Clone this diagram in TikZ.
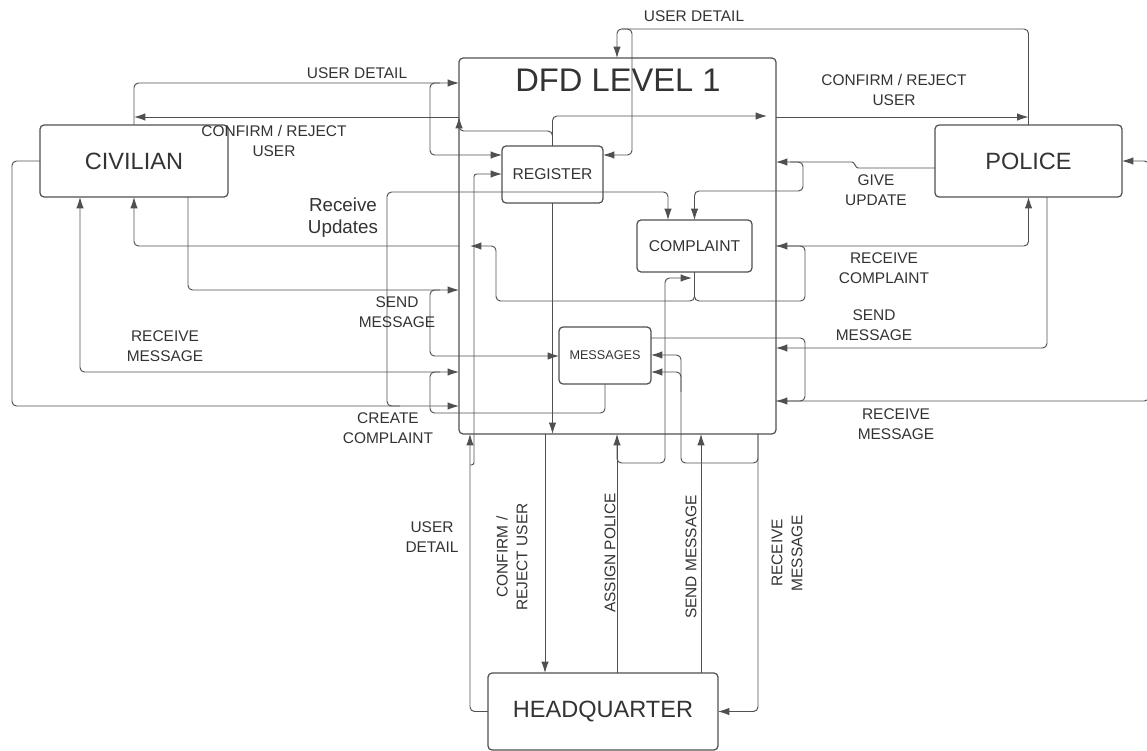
\documentclass[tikz,border=0pt]{standalone}
\usepackage{fontspec}
\setmainfont{Liberation Sans}
\usetikzlibrary{arrows.meta}
\definecolor{linegray}{HTML}{505050}
\definecolor{txtgray}{HTML}{333333}
\tikzset{
  proc/.style={draw=linegray, line width=0.7pt, rounded corners=0.08cm, inner sep=0pt, outer sep=0pt, text=txtgray, align=center},
  flow/.style={draw=linegray, line width=0.55pt, rounded corners=0.09cm, ->},
  lbl/.style={text=txtgray, align=center, inner sep=0pt, font=\fontsize{8.8}{11.3}\selectfont},
}
\begin{document}
\begin{tikzpicture}[x=0.02cm, y=-0.02cm, >={Latex[length=6.5pt,width=4.3pt]}]
  \useasboundingbox (0,0) rectangle (1147,751);
  % processes and entities
  \node[proc, minimum width=6.34cm, minimum height=7.52cm] (dfd) at (617.5,246) {};
  \node[text=txtgray, font=\fontsize{18.6}{20}\selectfont] (title) at (618,80) {DFD LEVEL 1};
  \node[proc, minimum width=3.76cm, minimum height=1.44cm, font=\fontsize{13.4}{15}\selectfont] (civ) at (134,161) {CIVILIAN};
  \node[proc, minimum width=3.74cm, minimum height=1.44cm, font=\fontsize{13.4}{15}\selectfont] (pol) at (1028.5,161) {POLICE};
  \node[proc, minimum width=4.6cm, minimum height=1.54cm, font=\fontsize{13.4}{15}\selectfont] (hq) at (603,711.5) {HEADQUARTER};
  \node[proc, minimum width=2.02cm, minimum height=1.14cm, font=\fontsize{8.9}{10}\selectfont] (reg) at (552.5,174.5) {REGISTER};
  \node[proc, minimum width=2.3cm, minimum height=1.04cm, font=\fontsize{8.9}{10}\selectfont] (cmp) at (694.5,246) {COMPLAINT};
  \node[proc, minimum width=1.84cm, minimum height=1.14cm, font=\fontsize{7.2}{8}\selectfont] (msg) at (605,355.5) {MESSAGES};
  % free ends
  \coordinate (rcfm) at (767,116);
  \coordinate (rupd) at (470,246);
  \coordinate (apol) at (692,278);

  % civilian: user detail / confirm
  \draw[flow] (civ.north) -- (134,83) -- (dfd.west |- 0,83);
  \draw[flow] (440,83) -- (430,83) -- (430,155) -- (reg.west |- 0,155);
  \draw[flow] (dfd.west |- 0,117) -- (civ.north |- 0,117);
  \draw[flow] (reg.north) -- (reg.north |- 0,131) -- (dfd.west |- 0,131) -- (dfd.west |- 0,117);
  % register to police: confirm
  \draw[flow] (reg.north) -- (reg.north |- 0,116) -- (rcfm);
  \draw[flow] (dfd.east |- 0,117) -- (pol.north |- 0,117);
  % police: user detail
  \draw[flow] (pol.north) -- (pol.north |- 0,29) -- (617,29) -- (617,0 |- dfd.north);
  \draw[flow] (622,29) -- (632,29) -- (632,155) -- (reg.east |- 0,155);
  % police: give update
  \draw[flow, rounded corners=0.02cm] (pol.west |- 0,168) -- (857,168) -- (853,162) -- (dfd.east |- 0,162);
  \draw[flow] (790,162) -- (803,162) -- (803,191) -- (cmp.north |- 0,191) -- (cmp.north);
  % civilian: create complaint
  \draw[flow] (civ.west) -- (12,0 |- civ.west) -- (12,406) -- (dfd.west |- 0,406);
  \draw[flow] (400,406) -- (387,406) -- (387,192) -- (668,192) -- (668,0 |- cmp.north);
  % complaint out: police and civilian
  \draw[flow] (cmp.south) -- (cmp.south |- 0,301) -- (805,301) -- (805,246) -- (dfd.east |- 0,246);
  \draw[flow] (dfd.east |- 0,246) -- (pol.south |- 0,246) -- (pol.south);
  \draw[flow] (cmp.south) -- (cmp.south |- 0,301) -- (496,301) -- (496,246) -- (rupd);
  \draw[flow] (dfd.west |- 0,246) -- (civ.south |- 0,246) -- (civ.south);
  % civilian: messages
  \draw[flow] (188,0 |- civ.south) -- (188,290) -- (dfd.west |- 0,290);
  \draw[flow] (440,290) -- (430,290) -- (430,356) -- (msg.west |- 0,356);
  \draw[flow, <->] (80,0 |- civ.south) -- (80,372) -- (dfd.west |- 0,372);
  \draw[flow, -] (msg.south) -- (msg.south |- 0,413) -- (430,413) -- (430,372) -- (440,372);
  % headquarter
  \draw[flow] (hq.west) -- (470,0 |- hq.west) -- (470,0 |- dfd.south);
  \draw[flow, rounded corners=0.05cm] (470,465) -- (474,465) -- (474,174) -- (reg.west |- 0,174);
  \draw[flow] (reg.south) -- (reg.south |- dfd.south);
  \draw[flow] (545,0 |- dfd.south) -- (545,0 |- hq.north);
  \draw[flow] (617,0 |- hq.north) -- (617,0 |- dfd.south);
  \draw[flow] (617,445) -- (617,463) -- (665,463) -- (665,278) -- (apol);
  \draw[flow] (701,0 |- hq.north) -- (701,0 |- dfd.south);
  \draw[flow] (758,0 |- dfd.south) -- (758,463) -- (681,463) -- (681,372) -- (msg.east |- 0,372);
  \draw[flow] (681,392) -- (681,355) -- (msg.east |- 0,355);
  \draw[flow] (758,0 |- dfd.south) -- (758,0 |- hq.east) -- (hq.east);
  % police: messages
  \draw[flow] (1047,0 |- pol.south) -- (1047,348) -- (dfd.east |- 0,348);
  \draw[flow] (msg.east |- 0,338) -- (805,338) -- (805,401) -- (dfd.east |- 0,401);
  \draw[flow] (dfd.east |- 0,401) -- (1149,401) -- (1149,161) -- (pol.east);

  % labels
  \node[lbl] (l1) at (357,73) {USER DETAIL};
  \node[lbl] (l2) at (274,141) {CONFIRM / REJECT\\USER};
  \node[lbl] (l3) at (694,16) {USER DETAIL};
  \node[lbl] (l4) at (894,90) {CONFIRM / REJECT\\USER};
  \node[lbl] (l5) at (876,190) {GIVE\\UPDATE};
  \node[lbl, font=\fontsize{10.7}{12.5}\selectfont] (l6) at (343,218) {Receive\\Updates};
  \node[lbl] (l7) at (884,268) {RECEIVE\\COMPLAINT};
  \node[lbl] (l8) at (874,325) {SEND\\MESSAGE};
  \node[lbl] (l9) at (896,424) {RECEIVE\\MESSAGE};
  \node[lbl] (l10) at (397,312) {SEND\\MESSAGE};
  \node[lbl] (l11) at (165,346) {RECEIVE\\MESSAGE};
  \node[lbl] (l12) at (388,428) {CREATE\\COMPLAINT};
  \node[lbl] (l13) at (432,537) {USER\\DETAIL};
  \node[lbl, rotate=90] (l14) at (512,557) {CONFIRM /\\REJECT USER};
  \node[lbl, rotate=90] (l15) at (610,553) {ASSIGN POLICE};
  \node[lbl, rotate=90] (l16) at (691,557) {SEND MESSAGE};
  \node[lbl, rotate=90] (l17) at (787,553) {RECEIVE\\MESSAGE};
\end{tikzpicture}
\end{document}
